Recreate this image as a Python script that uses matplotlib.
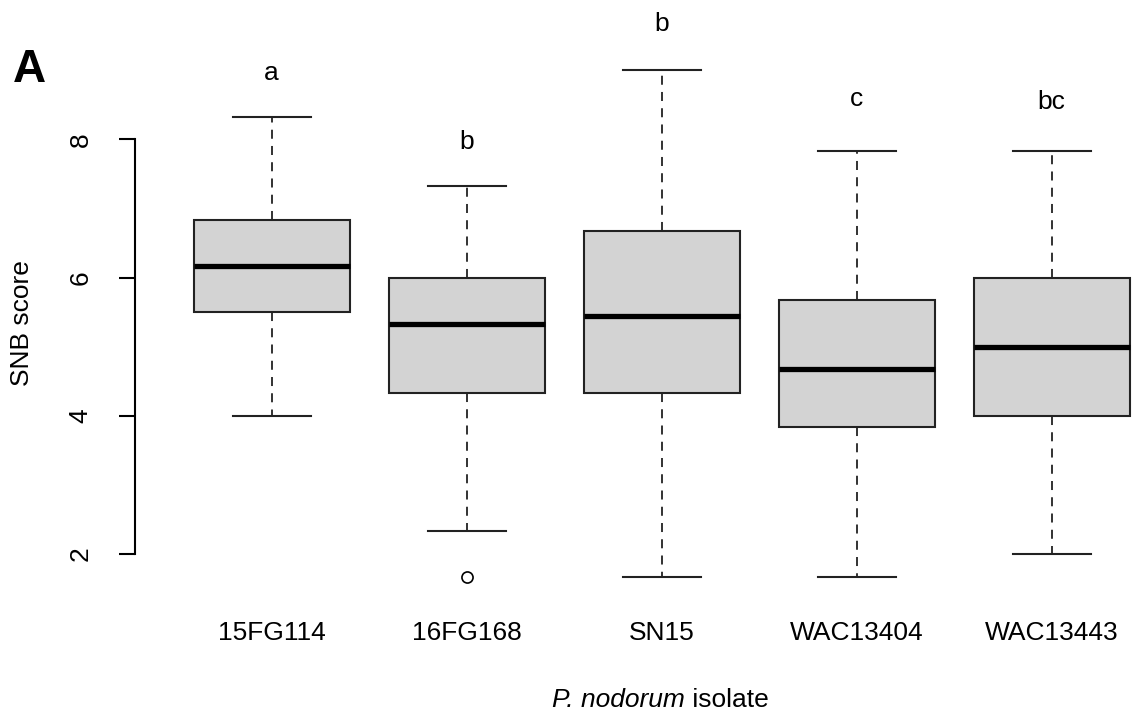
# SNB score boxplot per P. nodorum isolate (R base graphics look)

import matplotlib
matplotlib.use('Agg')
import matplotlib.pyplot as plt

plt.rcParams['font.family'] = ['Liberation Sans', 'DejaVu Sans']

# data
isolates = ['15FG114', '16FG168', 'SN15', 'WAC13404', 'WAC13443']
whisk_lo = [4.0, 2.33, 1.67, 1.67, 2.0]
q1 = [5.5, 4.33, 4.33, 3.83, 4.0]
medians = [6.17, 5.33, 5.45, 4.67, 5.0]
q3 = [6.83, 6.0, 6.67, 5.67, 6.0]
whisk_hi = [8.33, 7.33, 9.0, 7.83, 7.83]
outliers = [[], [1.67], [], [], []]
letters = ['a', 'b', 'b', 'c', 'bc']
letter_y = [8.86, 7.86, 9.57, 8.48, 8.44]  # baseline of the group letters

stats = []
for i in range(len(isolates)):
    stats.append({'label': isolates[i], 'whislo': whisk_lo[i], 'q1': q1[i],
                  'med': medians[i], 'q3': q3[i], 'whishi': whisk_hi[i],
                  'fliers': outliers[i]})

W, H = 1132, 718
fig = plt.figure(figsize=(W / 100, H / 100), dpi=100)
# plot region in pixels: left 135, bottom 597, top 50
ax = fig.add_axes([135 / W, (H - 597.2) / H, (W - 135) / W, (597.2 - 50) / H])

ax.bxp(stats, positions=range(1, 6), widths=0.8, capwidths=0.4,
       patch_artist=True,
       boxprops=dict(facecolor='#d3d3d3', edgecolor='#222222', linewidth=1.5),
       medianprops=dict(color='black', linewidth=3.8, solid_capstyle='butt'),
       whiskerprops=dict(color='#222222', linewidth=1.3, linestyle=(0, (5, 4))),
       capprops=dict(color='#222222', linewidth=1.5),
       flierprops=dict(marker='o', markersize=8, markerfacecolor='none',
                       markeredgecolor='black', markeredgewidth=1.2))

ax.set_xlim(0.3, 0.3 + (W - 135) / 195)
ax.set_ylim(1.373, 9.293)

for s in ['top', 'right', 'bottom']:
    ax.spines[s].set_visible(False)
ax.spines['left'].set_bounds(2, 8)
ax.spines['left'].set_linewidth(1.5)

ax.set_yticks([2, 4, 6, 8])
ax.tick_params(axis='y', length=11.5, width=1.5, pad=27.5, labelsize=19)
plt.setp(ax.get_yticklabels(), rotation=90, va='center', ha='center')
ax.tick_params(axis='x', length=0, pad=17, labelsize=19)

for i in range(len(letters)):
    ax.text(i + 1, letter_y[i], letters[i], ha='center', va='baseline',
            fontsize=19, clip_on=False)

# x label: italic genus/species then plain word
t1 = fig.text(552 / W, (H - 712) / H, 'P. nodorum', fontstyle='italic',
              ha='left', va='bottom', fontsize=19)
ax.annotate(' isolate', xy=(1, 0), xycoords=t1, ha='left', va='bottom',
            fontsize=19, annotation_clip=False)

fig.text(22 / W, (H - 323) / H, 'SNB score', rotation=90, ha='center',
         va='center', fontsize=19)
fig.text(13 / W, (H - 82) / H, 'A', fontsize=33, fontweight='bold',
         ha='left', va='baseline')

fig.savefig('out.png', dpi=100)
